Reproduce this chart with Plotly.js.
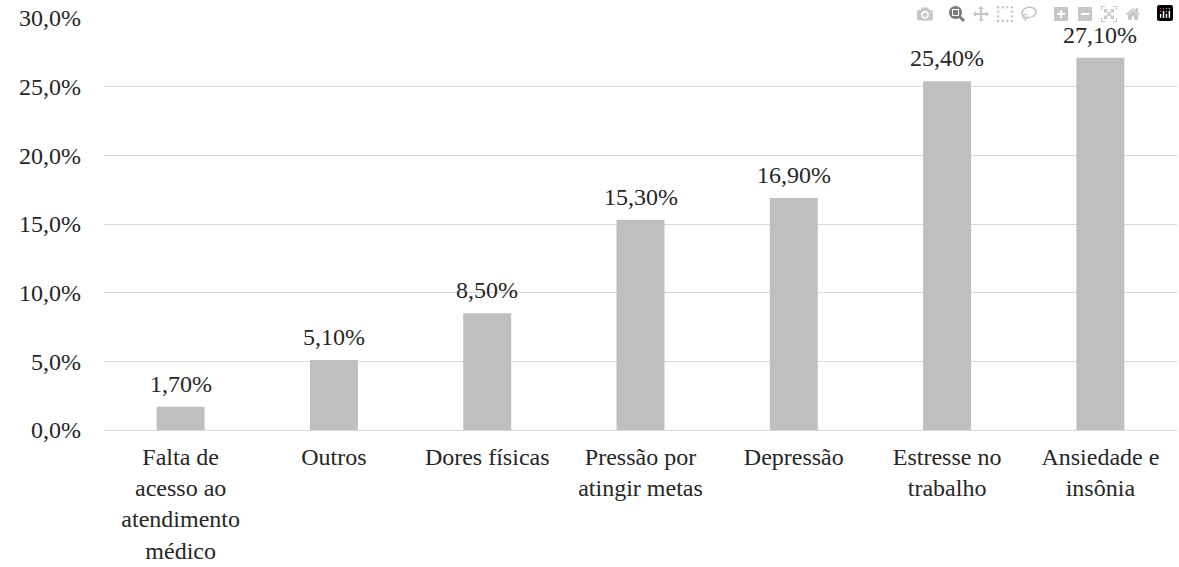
<!DOCTYPE html>
<html>
<head>
<meta charset="utf-8">
<script src="https://cdn.plot.ly/plotly-3.0.1.min.js"></script>
</head>
<body style="margin:0;padding:0;background:#fff;">
<div id="chart" style="width:1179px;height:567px;"></div>
<script>
const categories = [
  "Falta de<br>acesso ao<br>atendimento<br>médico",
  "Outros",
  "Dores físicas",
  "Pressão por<br>atingir metas",
  "Depressão",
  "Estresse no<br>trabalho",
  "Ansiedade e<br>insônia"
];
const values = [1.7, 5.1, 8.5, 15.3, 16.9, 25.4, 27.1];
const yTicks = [0, 5, 10, 15, 20, 25, 30];
const yTickLabels = ["0,0%", "5,0%", "10,0%", "15,0%", "20,0%", "25,0%", "30,0%"];
const valueLabels = ["1,70%", "5,10%", "8,50%", "15,30%", "16,90%", "25,40%", "27,10%"];

const trace = {
  type: "bar",
  x: categories,
  y: values,
  marker: {color: "#bfbfbf"},
  hoverinfo: "none"
};

const annotations = categories.map((c, i) => ({
  x: c, y: values[i], xref: "x", yref: "y",
  text: valueLabels[i],
  showarrow: false, yanchor: "bottom", yshift: 8
}));

const layout = {
  width: 1179, height: 567,
  margin: {l: 104, r: 2, t: 18, b: 137},
  paper_bgcolor: "#fff", plot_bgcolor: "#fff",
  bargap: 0.687,
  showlegend: false,
  font: {family: "Liberation Serif", size: 24, color: "#262626"},
  xaxis: {
    type: "category",
    showgrid: false, zeroline: false, showline: false, ticks: "",
    ticklabelstandoff: 10
  },
  yaxis: {
    range: [0, 30],
    tickmode: "array",
    tickvals: yTicks,
    ticktext: yTickLabels,
    showgrid: true, gridcolor: "#d9d9d9", gridwidth: 1,
    zeroline: true, zerolinecolor: "#d9d9d9", zerolinewidth: 1,
    showline: false, ticks: "",
    ticklabelstandoff: 22
  },
  annotations: annotations
};

Plotly.newPlot("chart", [trace], layout);
</script>
</body>
</html>
